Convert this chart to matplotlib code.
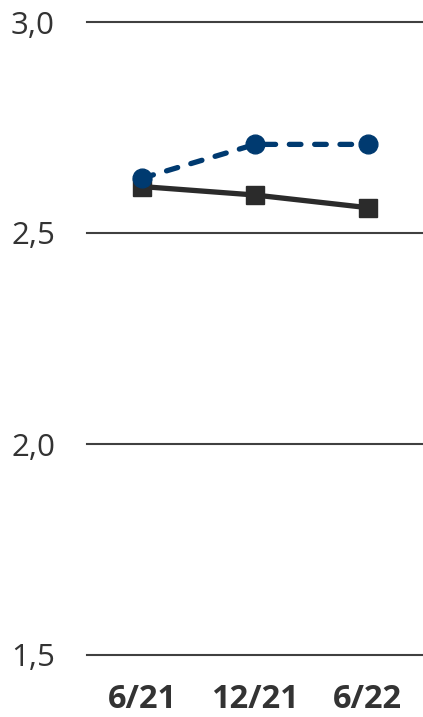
import matplotlib
matplotlib.use("Agg")
import matplotlib.pyplot as plt

plt.rcParams['font.family'] = ['Open Sans', 'DejaVu Sans']

periods = ["6/21", "12/21", "6/22"]
series_blue = [2.63, 2.71, 2.71]
series_dark = [2.61, 2.59, 2.56]
y_ticks = [1.5, 2.0, 2.5, 3.0]

BLUE = "#003a70"
DARK = "#2b2b2b"

fig = plt.figure(figsize=(4.23, 7.17), dpi=100)
ax = fig.add_axes([87 / 423, 1 - 655 / 717, 335 / 423, (655 - 22) / 717])

x = list(range(len(periods)))
ax.plot(x, series_dark, color=DARK, lw=3.8, marker="s", ms=13, zorder=3)
ax.plot(x, series_blue, color=BLUE, lw=3.8, marker="o", ms=13.5,
        linestyle=(0, (2.2, 2.6)), dash_capstyle="round", zorder=4)

ax.set_xlim(-0.49, 2.48)
ax.set_ylim(1.5, 3.0)
ax.set_yticks(y_ticks)
ax.set_yticklabels([f"{v:.1f}".replace(".", ",") for v in y_ticks],
                   fontsize=22.5, color="#333333")
ax.set_xticks(x)
ax.set_xticklabels(periods, fontsize=23.5, fontweight="bold", color="#333333")
ax.tick_params(axis="y", length=0, pad=23)
ax.tick_params(axis="x", length=0, pad=20)

ax.yaxis.grid(True, color="#404040", lw=1.5)
for gl in ax.yaxis.get_gridlines():
    gl.set_clip_on(False)
ax.set_axisbelow(True)
for s in ax.spines.values():
    s.set_visible(False)

fig.savefig("out.png", dpi=100)
